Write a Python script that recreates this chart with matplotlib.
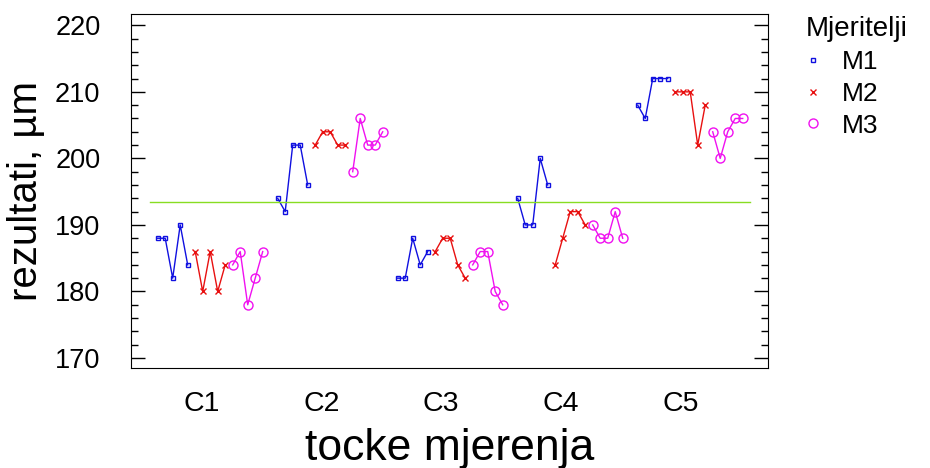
import numpy as np
import matplotlib
matplotlib.use("Agg")
import matplotlib.pyplot as plt
from matplotlib.ticker import MultipleLocator

plt.rcParams['font.family'] = ['Liberation Sans', 'DejaVu Sans']

# measurement points and operators
tocke = ['C1', 'C2', 'C3', 'C4', 'C5']
mjeritelji = ['M1', 'M2', 'M3']

# results per point, 5 repeats per operator
m1 = [[188, 188, 182, 190, 184],
      [194, 192, 202, 202, 196],
      [182, 182, 188, 184, 186],
      [194, 190, 190, 200, 196],
      [208, 206, 212, 212, 212]]
m2 = [[186, 180, 186, 180, 184],
      [202, 204, 204, 202, 202],
      [186, 188, 188, 184, 182],
      [184, 188, 192, 192, 190],
      [210, 210, 210, 202, 208]]
m3 = [[184, 186, 178, 182, 186],
      [198, 206, 202, 202, 204],
      [184, 186, 186, 180, 178],
      [190, 188, 188, 192, 188],
      [204, 200, 204, 206, 206]]

series = [m1, m2, m3]
colors = ['#1010e0', '#e81010', '#f010f0']
markers = ['s', 'x', 'o']
msizes = [3.3, 5, 6.5]

fig = plt.figure(figsize=(9.3, 4.68), dpi=100)
ax = fig.add_axes([131/930, 1 - 368/468, (768 - 131)/930, (368 - 14)/468])

n_rep = 5
step = 16  # 15 points per measuring point + 1 gap
handles = []
for k, (data, c, mk, ms) in enumerate(zip(series, colors, markers, msizes)):
    for i in range(len(tocke)):
        x = i*step + k*n_rep + np.arange(n_rep)
        ax.plot(x, data[i], color=c, lw=1, marker=mk, ms=ms,
                mfc='none', mec=c, mew=1)
    handles.append(ax.plot([], [], ls='none', marker=mk, ms=ms, mfc='none',
                           mec=c, mew=1, label=mjeritelji[k])[0])

# grand mean line
sredina = np.mean(np.array(series))
ax.plot([-1, (len(tocke) - 1)*step + 3*n_rep], [sredina, sredina],
        color='#88dd22', lw=1)

ax.set_xlim(-3.56, 81.37)
ax.set_ylim(168.5, 221.7)
ax.set_xticks([i*step + 5.8 for i in range(len(tocke))])
ax.set_xticklabels(tocke)
ax.tick_params(axis='x', length=0, pad=16.5, labelsize=20.5)
ax.yaxis.set_major_locator(MultipleLocator(10))
ax.yaxis.set_minor_locator(MultipleLocator(2))
ax.tick_params(axis='y', which='both', direction='in', left=True, right=True,
               labelsize=19.5, pad=22)
ax.tick_params(axis='y', which='major', length=10, width=1)
ax.tick_params(axis='y', which='minor', length=5, width=1)

ax.set_xlabel('tocke mjerenja', fontsize=32, labelpad=8)
ax.set_ylabel('rezultati, µm', fontsize=29, labelpad=7)

leg = ax.legend(handles=handles, loc='upper left',
                bbox_to_anchor=(798/930, 1 - 8/468),
                bbox_transform=fig.transFigure, frameon=False, title='Mjeritelji',
                alignment='left', fontsize=19, title_fontsize=20, handlelength=0.5,
                handletextpad=0.85, labelspacing=0.3, borderaxespad=0.1,
                borderpad=0.2)

fig.savefig('out.png', dpi=100)
